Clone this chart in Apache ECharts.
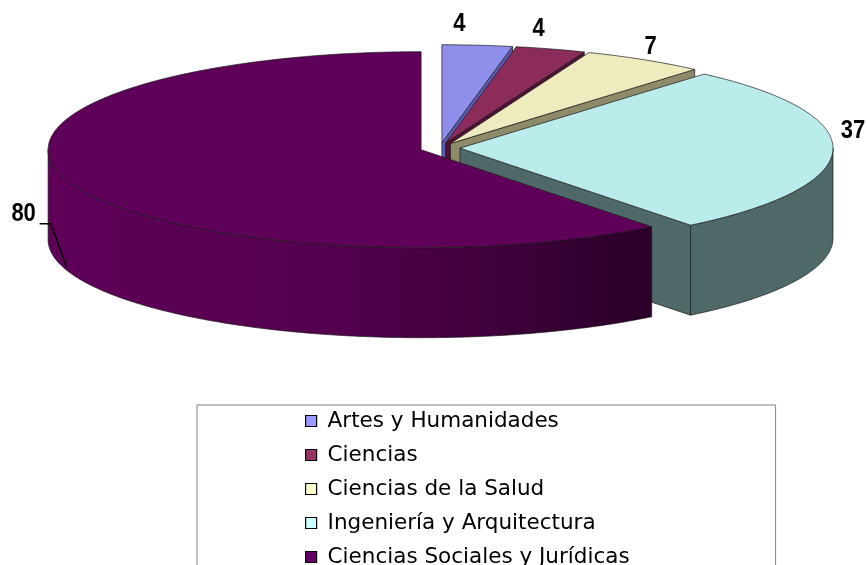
<!DOCTYPE html>
<html>
<head>
<meta charset="utf-8">
<script src="https://cdn.jsdelivr.net/npm/echarts@6/dist/echarts.min.js"></script>
<style>
  html, body { margin: 0; padding: 0; background: #fff; }
  #main { width: 867px; height: 565px; }
</style>
</head>
<body>
<div id="main"></div>
<script>
var categories = ['Artes y Humanidades', 'Ciencias', 'Ciencias de la Salud', 'Ingeniería y Arquitectura', 'Ciencias Sociales y Jurídicas'];
var values = [4, 4, 7, 37, 80];

// colores
var legendColors = ['#9999FF', '#993366', '#FFFFCC', '#CCFFFF', '#660066'];
var topColors = ['#8F8FEB', '#8B2C5B', '#EEECBE', '#BBECEC', '#5F0059'];
var sideColors = ['#5C5CB8', '#4E1234', '#8E8B6B', '#4F6969', null];
// label offsets from the outer edge of each slice
var labelOffsets = [[-18, -21], [-12, -20], [6, -13], [20, -19], [-45, 32]];
var leaders = [false, false, false, false, true];

var chart = echarts.init(document.getElementById('main'), null, { renderer: 'canvas' });

var cx = 440, cy = 148, rx = 373, ry = 98, depth = 90, explode = 20;
var total = values.reduce(function (a, b) { return a + b; }, 0);
var starts = [];
var acc = 0;
for (var i = 0; i < values.length; i++) { starts.push(acc); acc += values[i]; }

function ellipsePt(ox, oy, th) {
  return [ox + rx * Math.sin(th), oy - ry * Math.cos(th)];
}

function makeRender(idx) {
  return function (params, api) {
    var v = api.value(0);
    var a0 = starts[idx] / total * Math.PI * 2;
    var a1 = a0 + v / total * Math.PI * 2;
    var mid = (a0 + a1) / 2;
    var ox = cx + explode * Math.sin(mid);
    var oy = cy - explode * Math.cos(mid) * ry / rx;
    var stroke = { stroke: '#1a1a1a', lineWidth: 0.7 };
    var sideFill = sideColors[idx] || new echarts.graphic.LinearGradient(0, 0, 1, 0, [
      { offset: 0, color: '#600059' },
      { offset: 0.5, color: '#52004D' },
      { offset: 1, color: '#2A0028' }
    ]);
    var children = [];

    function radialFace(th) {
      var p = ellipsePt(ox, oy, th);
      children.push({
        type: 'polygon',
        shape: { points: [[ox, oy], p, [p[0], p[1] + depth], [ox, oy + depth]] },
        style: Object.assign({ fill: sideFill }, stroke)
      });
    }
    if (Math.sin(a0) < -1e-6) radialFace(a0);
    if (Math.sin(a1) > 1e-6) radialFace(a1);

    // outer wall, front half only
    var w0 = Math.max(a0, Math.PI / 2), w1 = Math.min(a1, Math.PI * 1.5);
    if (w1 > w0) {
      var topArc = [], botArc = [];
      var n = Math.max(2, Math.ceil((w1 - w0) / 0.01));
      for (var k = 0; k <= n; k++) {
        var t = w0 + (w1 - w0) * k / n;
        var p = ellipsePt(ox, oy, t);
        topArc.push(p);
        botArc.unshift([p[0], p[1] + depth]);
      }
      children.push({
        type: 'polygon',
        shape: { points: topArc.concat(botArc) },
        style: Object.assign({ fill: sideFill }, stroke)
      });
    }

    // top face
    var pts = [[ox, oy]];
    var m = Math.max(2, Math.ceil((a1 - a0) / 0.01));
    for (var j = 0; j <= m; j++) {
      pts.push(ellipsePt(ox, oy, a0 + (a1 - a0) * j / m));
    }
    children.push({
      type: 'polygon',
      shape: { points: pts },
      style: Object.assign({ fill: topColors[idx] }, stroke)
    });

    // label
    var outer = ellipsePt(ox, oy, mid);
    var lx = outer[0] + labelOffsets[idx][0];
    var ly = outer[1] + labelOffsets[idx][1];
    children.push({
      type: 'text',
      x: lx, y: ly,
      scaleX: 0.88,
      style: {
        text: String(v),
        x: 0, y: 0,
        align: 'center', verticalAlign: 'middle',
        fill: '#000',
        font: 'bold 25px "Liberation Sans Narrow", "Liberation Sans", Arial, sans-serif'
      }
    });
    if (leaders[idx]) {
      children.push({
        type: 'polyline',
        shape: { points: [[lx + 16, ly + 10], [lx + 27, ly + 10], [outer[0] - 2, outer[1] + depth - 5]] },
        style: { stroke: '#000', lineWidth: 1.5, fill: null }
      });
    }
    return { type: 'group', children: children };
  };
}

var series = categories.map(function (name, i) {
  return {
    type: 'custom',
    name: name,
    coordinateSystem: 'none',
    itemStyle: { color: legendColors[i] },
    data: [[values[i]]],
    renderItem: makeRender(i),
    silent: true
  };
});

chart.setOption({
  backgroundColor: '#fff',
  animation: false,
  legend: {
    data: categories,
    orient: 'vertical',
    left: 197,
    top: 405,
    height: 300,
    padding: [4, 146, 20, 108],
    itemGap: 10,
    itemWidth: 11,
    itemHeight: 11,
    icon: 'rect',
    selectedMode: false,
    borderColor: '#808080',
    borderWidth: 1,
    backgroundColor: '#fff',
    itemStyle: { borderColor: '#000', borderWidth: 1.2 },
    textStyle: {
      fontFamily: 'DejaVu Sans',
      fontSize: 21.5,
      lineHeight: 24,
      color: '#000',
      padding: [0, 0, 0, 6]
    }
  },
  series: series
});
</script>
</body>
</html>
